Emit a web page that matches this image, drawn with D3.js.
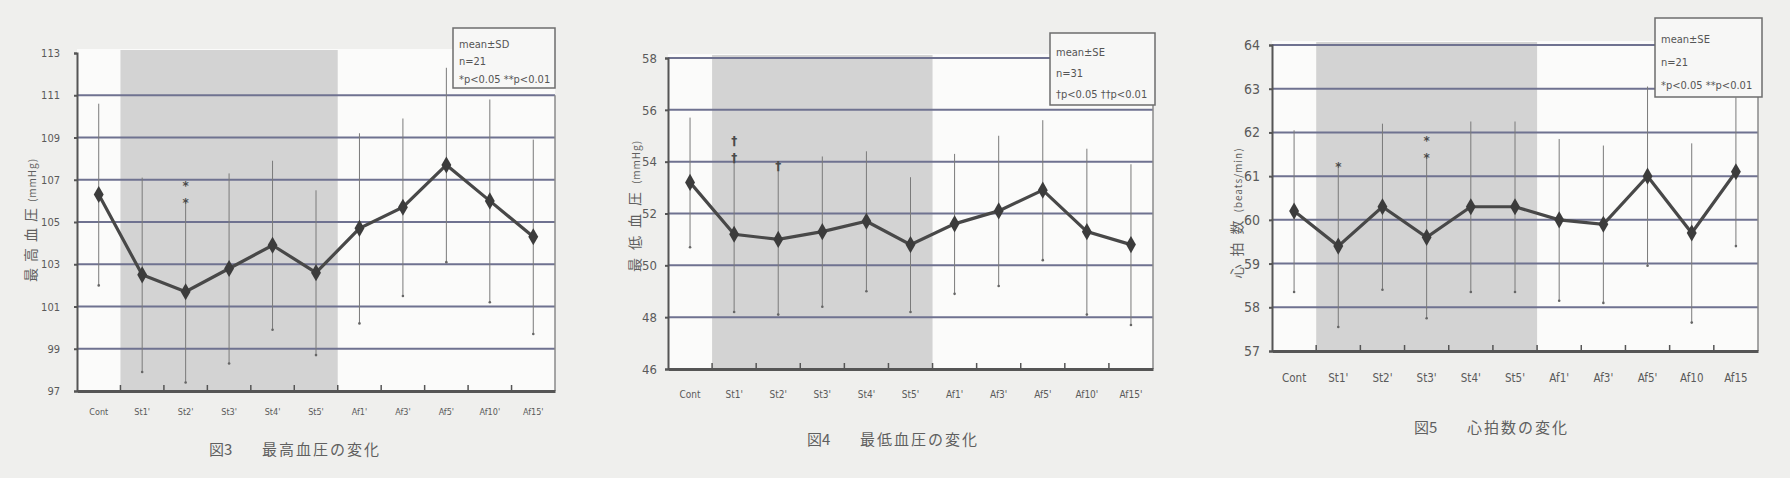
<!DOCTYPE html>
<html>
<head>
<meta charset="utf-8">
<script src="https://cdn.jsdelivr.net/npm/d3@7"></script>
<style>
    body { margin: 0; background: #efefed; }
    .tick text { font-family: "Liberation Sans Narrow", "DejaVu Sans Condensed", sans-serif; fill: #5a5a5a; }
    .jp { font-family: "Noto Sans CJK JP", sans-serif; fill: #5f5f5f; }
    .legend text { font-family: "Liberation Sans Narrow", "DejaVu Sans Condensed", sans-serif; fill: #555; }
</style>
</head>
<body>
<div id="chart"></div>
<script>

// Categories (time points) for each figure
var categories1 = ["Cont", "St1'", "St2'", "St3'", "St4'", "St5'", "Af1'", "Af3'", "Af5'", "Af10'", "Af15'"];
var categories2 = ["Cont", "St1'", "St2'", "St3'", "St4'", "St5'", "Af1'", "Af3'", "Af5'", "Af10'", "Af15'"];
var categories3 = ["Cont", "St1'", "St2'", "St3'", "St4'", "St5'", "Af1'", "Af3'", "Af5'", "Af10", "Af15"];

// Fig.3 systolic blood pressure (mmHg)
var sbpMean = [106.3, 102.5, 101.7, 102.8, 103.9, 102.6, 104.7, 105.7, 107.7, 106.0, 104.3];
var sbpErr  = [4.3, 4.6, 4.3, 4.5, 4.0, 3.9, 4.5, 4.2, 4.6, 4.8, 4.6];
var sbpSig  = ["", "", "**", "", "", "", "", "", "", "", ""];
var sbpTicks = [97, 99, 101, 103, 105, 107, 109, 111, 113];

// Fig.4 diastolic blood pressure (mmHg)
var dbpMean = [53.2, 51.2, 51.0, 51.3, 51.7, 50.8, 51.6, 52.1, 52.9, 51.3, 50.8];
var dbpErr  = [2.5, 3.0, 2.9, 2.9, 2.7, 2.6, 2.7, 2.9, 2.7, 3.2, 3.1];
var dbpSig  = ["", "††", "†", "", "", "", "", "", "", "", ""];
var dbpTicks = [46, 48, 50, 52, 54, 56, 58];

// Fig.5 heart rate (beats/min)
var hrMean = [60.2, 59.4, 60.3, 59.6, 60.3, 60.3, 60.0, 59.9, 61.0, 59.7, 61.1];
var hrErr  = [1.85, 1.85, 1.9, 1.85, 1.95, 1.95, 1.85, 1.8, 2.05, 2.05, 1.7];
var hrSig  = ["", "*", "", "**", "", "", "", "", "", "", ""];
var hrTicks = [57, 58, 59, 60, 61, 62, 63, 64];

// Legend and caption texts
var legend1 = ["mean±SD", "n=21", "*p<0.05 **p<0.01"];
var legend2 = ["mean±SE", "n=31", "†p<0.05 ††p<0.01"];
var legend3 = ["mean±SE", "n=21", "*p<0.05 **p<0.01"];

function init() {

    var svg = d3.select("#chart")
                .append("svg")
                .attr("width", 1790)
                .attr("height", 478);

    drawPanel(svg, {
        cats: categories1, mean: sbpMean, err: sbpErr, sig: sbpSig, ticks: sbpTicks,
        left: 77, right: 555, top: 53, bottom: 391, topLine: false,
        yFont: 11, yLabelEnd: 60, xFont: 9, xLabelY: 412,
        yTitle: "最高血圧", yUnit: "(mmHg)", yTitleX: 31, yTitleY: 220, yTitleLs: 6,
        figNo: "図3", caption: "最高血圧の変化", capX: 209, capY: 455,
        legend: legend1, box: [453, 28, 102, 60]
    });

    drawPanel(svg, {
        cats: categories2, mean: dbpMean, err: dbpErr, sig: dbpSig, ticks: dbpTicks,
        left: 668, right: 1153, top: 58, bottom: 369, topLine: true,
        yFont: 13, yLabelEnd: 657, xFont: 10, xLabelY: 394,
        yTitle: "最低血圧", yUnit: "(mmHg)", yTitleX: 635, yTitleY: 206, yTitleLs: 8,
        figNo: "図4", caption: "最低血圧の変化", capX: 807, capY: 445,
        legend: legend2, box: [1050, 33, 105, 72]
    });

    drawPanel(svg, {
        cats: categories3, mean: hrMean, err: hrErr, sig: hrSig, ticks: hrTicks,
        left: 1272, right: 1758, top: 45, bottom: 351, topLine: true,
        yFont: 14, yLabelEnd: 1260, xFont: 11.5, xLabelY: 378,
        yTitle: "心拍数", yUnit: "(beats/min)", yTitleX: 1237, yTitleY: 213, yTitleLs: 8,
        figNo: "図5", caption: "心拍数の変化", capX: 1414, capY: 433,
        legend: legend3, box: [1655, 18, 107, 79]
    });
}

function drawPanel(svg, p) {

    var g = svg.append("g");

    // band scale for time points, linear scale for values
    var xScale = d3.scaleBand()
                   .domain(p.cats)
                   .range([p.left, p.right])
                   .padding(0);

    var yScale = d3.scaleLinear()
                   .domain(d3.extent(p.ticks))
                   .range([p.bottom, p.top]);

    var cx = function(i) { return xScale(p.cats[i]) + xScale.bandwidth() / 2; };

    // plot background
    g.append("rect")
        .attr("x", p.left).attr("y", p.top - 4)
        .attr("width", p.right - p.left).attr("height", p.bottom - p.top + 4)
        .attr("fill", "#fbfbfa");

    // shaded stimulation period St1' - St5'
    g.append("rect")
        .attr("x", xScale(p.cats[1]))
        .attr("y", p.top - 3)
        .attr("width", xScale(p.cats[5]) + xScale.bandwidth() - xScale(p.cats[1]))
        .attr("height", p.bottom - p.top + 3)
        .attr("fill", "#d3d3d3");

    // horizontal grid lines
    var gridTicks = p.ticks.slice(1, p.topLine ? p.ticks.length : p.ticks.length - 1);
    g.selectAll(".grid")
        .data(gridTicks)
        .enter()
        .append("line")
        .attr("x1", p.left).attr("x2", p.right)
        .attr("y1", function(d) { return yScale(d); })
        .attr("y2", function(d) { return yScale(d); })
        .attr("stroke", "#6f7290")
        .attr("stroke-width", 2);

    // right border
    g.append("line")
        .attr("x1", p.right).attr("x2", p.right)
        .attr("y1", p.topLine ? p.top : yScale(p.ticks[p.ticks.length - 2]))
        .attr("y2", p.bottom)
        .attr("stroke", "#8a8a8a")
        .attr("stroke-width", 1.5);

    // y axis
    var yAxis = d3.axisLeft(yScale)
                  .tickValues(p.ticks)
                  .tickSize(3)
                  .tickFormat(d3.format("d"));

    var ya = g.append("g")
        .attr("transform", "translate(" + p.left + ",0)")
        .call(yAxis);
    ya.select(".domain").attr("stroke", "#555").attr("stroke-width", 2);
    ya.selectAll(".tick line").attr("stroke", "#555").attr("stroke-width", 2);
    ya.selectAll(".tick text")
        .attr("x", p.yLabelEnd - p.left)
        .style("font-size", p.yFont + "px");

    // x axis
    var xAxis = d3.axisBottom(xScale).tickSize(0);
    var xa = g.append("g")
        .attr("transform", "translate(0," + p.bottom + ")")
        .call(xAxis);
    xa.select(".domain").attr("stroke", "#555").attr("stroke-width", 3);
    xa.selectAll(".tick text")
        .attr("y", p.xLabelY - p.bottom)
        .attr("dy", "0.35em")
        .style("font-size", p.xFont + "px");

    // boundary tick marks between time points
    g.selectAll(".btick")
        .data(p.cats.slice(1))
        .enter()
        .append("line")
        .attr("x1", function(d) { return xScale(d); })
        .attr("x2", function(d) { return xScale(d); })
        .attr("y1", p.bottom)
        .attr("y2", p.bottom - 6)
        .attr("stroke", "#555")
        .attr("stroke-width", 1.5);

    // error bars
    g.selectAll(".err")
        .data(p.mean)
        .enter()
        .append("line")
        .attr("x1", function(d, i) { return cx(i); })
        .attr("x2", function(d, i) { return cx(i); })
        .attr("y1", function(d, i) { return yScale(d + p.err[i]); })
        .attr("y2", function(d, i) { return yScale(d - p.err[i]); })
        .attr("stroke", "#7a7a7a")
        .attr("stroke-width", 1);

    g.selectAll(".errEnd")
        .data(p.mean)
        .enter()
        .append("circle")
        .attr("cx", function(d, i) { return cx(i); })
        .attr("cy", function(d, i) { return yScale(d - p.err[i]); })
        .attr("r", 1.3)
        .attr("fill", "#666");

    // mean line
    var line = d3.line()
                 .x(function(d, i) { return cx(i); })
                 .y(function(d) { return yScale(d); });

    g.append("path")
        .datum(p.mean)
        .attr("d", line)
        .attr("fill", "none")
        .attr("stroke", "#484848")
        .attr("stroke-width", 3.2);

    // diamond markers
    g.selectAll(".pt")
        .data(p.mean)
        .enter()
        .append("path")
        .attr("d", d3.symbol().type(d3.symbolDiamond).size(85))
        .attr("transform", function(d, i) { return "translate(" + cx(i) + "," + yScale(d) + ")"; })
        .attr("fill", "#3c3c3c");

    // significance marks, stacked above the error bar
    p.sig.forEach(function(s, i) {
        s.split("").forEach(function(ch, k) {
            g.append("text")
                .attr("x", cx(i))
                .attr("y", yScale(p.mean[i] + p.err[i]) + 6 - k * 17)
                .attr("text-anchor", "middle")
                .style("font-family", "DejaVu Sans, sans-serif")
                .style("font-size", "12px")
                .style("font-weight", "bold")
                .attr("fill", "#4a4a4a")
                .text(ch);
        });
    });

    // y axis title, rotated
    var yt = g.append("text")
        .attr("class", "jp")
        .attr("transform", "translate(" + p.yTitleX + "," + p.yTitleY + ") rotate(-90)")
        .attr("text-anchor", "middle")
        .attr("dy", "0.35em")
        .style("font-size", "14px");
    yt.append("tspan").style("letter-spacing", p.yTitleLs + "px").text(p.yTitle);
    yt.append("tspan").style("font-size", "10px").style("letter-spacing", "1px").text(p.yUnit);

    // figure caption
    g.append("text")
        .attr("class", "jp")
        .attr("x", p.capX).attr("y", p.capY)
        .style("font-size", "15px")
        .text(p.figNo);
    g.append("text")
        .attr("class", "jp")
        .attr("x", p.capX + 53).attr("y", p.capY)
        .style("font-size", "15px")
        .style("letter-spacing", "2px")
        .text(p.caption);

    // legend box
    var lg = g.append("g").attr("class", "legend");
    lg.append("rect")
        .attr("x", p.box[0]).attr("y", p.box[1])
        .attr("width", p.box[2]).attr("height", p.box[3])
        .attr("fill", "#f7f7f6")
        .attr("stroke", "#6d6d6d")
        .attr("stroke-width", 1.5);
    lg.selectAll(".lt")
        .data(p.legend)
        .enter()
        .append("text")
        .attr("x", p.box[0] + 6)
        .attr("y", function(d, i) { return p.box[1] + p.box[3] * (0.27 + i * 0.29); })
        .attr("dy", "0.35em")
        .style("font-size", "11px")
        .text(function(d) { return d; });
}

window.onload = init;
</script>
</body>
</html>
